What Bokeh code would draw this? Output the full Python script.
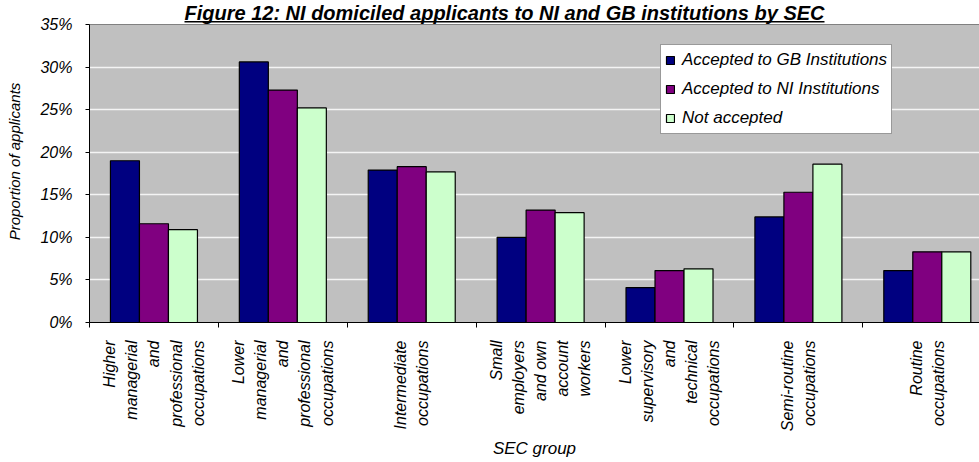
import math

from bokeh.plotting import figure
from bokeh.models import (ColumnDataSource, FixedTicker, PrintfTickFormatter,
                          Range1d, Legend, LegendItem)
from bokeh.transform import dodge
from bokeh.core.properties import value
from bokeh.embed import file_html
from bokeh.resources import INLINE

FONT = "Liberation Sans"

# ---- data -------------------------------------------------------------
title_text = "Figure 12: NI domiciled applicants to NI and GB institutions by SEC"

category_lines = [
    ["Higher", "managerial", "and", "professional", "occupations"],
    ["Lower", "managerial", "and", "professional", "occupations"],
    ["Intermediate", "occupations"],
    ["Small", "employers", "and own", "account", "workers"],
    ["Lower", "supervisory", "and", "technical", "occupations"],
    ["Semi-routine", "occupations"],
    ["Routine", "occupations"],
]

series_names = ["Accepted to GB Institutions", "Accepted to NI Institutions", "Not accepted"]

# proportion of applicants, per cent
accepted_gb = [19.0, 30.6, 17.9, 10.0, 4.1, 12.4, 6.1]
accepted_ni = [11.6, 27.3, 18.3, 13.2, 6.1, 15.3, 8.3]
not_accepted = [10.9, 25.2, 17.7, 12.9, 6.3, 18.6, 8.3]

y_ticks = [0, 5, 10, 15, 20, 25, 30, 35]

# ---- layout constants ---------------------------------------------------
W, H = 979, 462
LEFT, BOTTOM = 89, 140
PLOT_TOP_PX = 24            # pixel row of the 35% line
X_END = 6.905

frame_w = W - LEFT
frame_h = H - BOTTOM
Y_MAX = y_ticks[-1]
# the frame also holds the title strip above the plot area
Y_TOP = Y_MAX * frame_h / (frame_h - PLOT_TOP_PX)

colors = ["#000080", "#800080", "#CCFFCC"]
bar_width = 0.225
offsets = [-bar_width, 0.0, bar_width]

n = len(category_lines)
centers = [i + 0.5 for i in range(n)]
boundaries = [float(i) for i in range(n)]


def px_to_x(px):
    """canvas pixel column -> data x"""
    return (px - LEFT) / frame_w * X_END


def px_to_y(py):
    """canvas pixel row -> data y"""
    return (frame_h - py) / frame_h * Y_TOP


source = ColumnDataSource(data=dict(
    pos=centers,
    gb=accepted_gb,
    ni=accepted_ni,
    na=not_accepted,
))

p = figure(width=W, height=H, x_range=Range1d(0, X_END), y_range=Range1d(0, Y_TOP),
           toolbar_location=None, output_backend="svg",
           min_border_left=LEFT, min_border_right=0, min_border_top=0,
           min_border_bottom=BOTTOM)

p.background_fill_color = "white"
p.border_fill_color = "white"
p.outline_line_color = None

# grey plot area (0% .. 35%)
p.quad(left=[0], right=[X_END], bottom=[0], top=[Y_MAX],
       fill_color="#C0C0C0", line_color="#808080", line_width=1, level="image")

renderers = []
for key, off, col in zip(["gb", "ni", "na"], offsets, colors):
    r = p.vbar(x=dodge("pos", off, range=p.x_range), top=key, width=bar_width,
               source=source, fill_color=col, line_color="black", line_width=1.2)
    renderers.append(r)

# grid
p.xgrid.visible = False
p.ygrid.ticker = FixedTicker(ticks=y_ticks[1:-1])
p.ygrid.grid_line_color = "#F4F4F4"
p.ygrid.grid_line_width = 1.5

# y axis
p.yaxis.bounds = (0, Y_MAX)
p.yaxis.ticker = FixedTicker(ticks=y_ticks)
p.yaxis.formatter = PrintfTickFormatter(format="%d%%")
p.yaxis.major_label_text_font = FONT
p.yaxis.major_label_text_font_style = "italic"
p.yaxis.major_label_text_font_size = "16px"
p.yaxis.major_label_text_color = "black"
p.yaxis.major_label_standoff = 13
p.yaxis.major_tick_out = 4
p.yaxis.major_tick_in = 0
p.yaxis.minor_tick_out = 0
p.yaxis.minor_tick_in = 0
p.yaxis.axis_line_color = "black"
p.yaxis.major_tick_line_color = "black"
p.yaxis.axis_label = "Proportion of applicants"
p.yaxis.axis_label_text_font = FONT
p.yaxis.axis_label_text_font_style = "italic"
p.yaxis.axis_label_text_font_size = "15px"
p.yaxis.axis_label_text_color = "black"
p.yaxis.axis_label_standoff = 14

# x axis: labels at group centres, ticks at group boundaries
p.xaxis.ticker = FixedTicker(ticks=centers, minor_ticks=boundaries)
p.xaxis.major_label_overrides = {c: "\n".join(lines) for c, lines in zip(centers, category_lines)}
p.xaxis.major_label_orientation = math.pi / 2
p.xaxis.major_label_text_font = FONT
p.xaxis.major_label_text_font_style = "italic"
p.xaxis.major_label_text_font_size = "16px"
p.xaxis.major_label_text_color = "black"
p.xaxis.major_label_text_line_height = 1.3
p.xaxis.major_label_standoff = 13
p.xaxis.major_tick_out = 0
p.xaxis.major_tick_in = 0
p.xaxis.minor_tick_out = 5
p.xaxis.minor_tick_in = 0
p.xaxis.minor_tick_line_color = "black"
p.xaxis.axis_line_color = "black"
p.xaxis.axis_label = "SEC group"
p.xaxis.axis_label_text_font = FONT
p.xaxis.axis_label_text_font_style = "italic"
p.xaxis.axis_label_text_font_size = "17px"
p.xaxis.axis_label_text_color = "black"
p.xaxis.axis_label_standoff = 5

# legend
legend = Legend(items=[LegendItem(label=name, renderers=[r])
                       for name, r in zip(series_names, renderers)],
                location=(571, 188), margin=0, padding=4, spacing=7,
                label_height=22, glyph_width=10, glyph_height=10, label_standoff=7,
                label_text_font=FONT, label_text_font_style="italic",
                label_text_font_size="17px", label_text_color="black",
                border_line_color="#333333", border_line_width=1,
                background_fill_color="white", background_fill_alpha=1.0)
p.add_layout(legend, "center")

# underlined chart title in the strip above the grey area
p.text(x=[px_to_x(504)], y=[px_to_y(12.3)], text=[title_text],
       text_align="center", text_baseline="middle",
       text_font=value(FONT), text_font_size="20px", text_font_style="bold italic",
       text_color="black")
p.segment(x0=[px_to_x(184)], y0=[px_to_y(21.2)], x1=[px_to_x(824)], y1=[px_to_y(21.2)],
          line_color="black", line_width=1.5)

open("out.html", "w").write(file_html(p, INLINE))
